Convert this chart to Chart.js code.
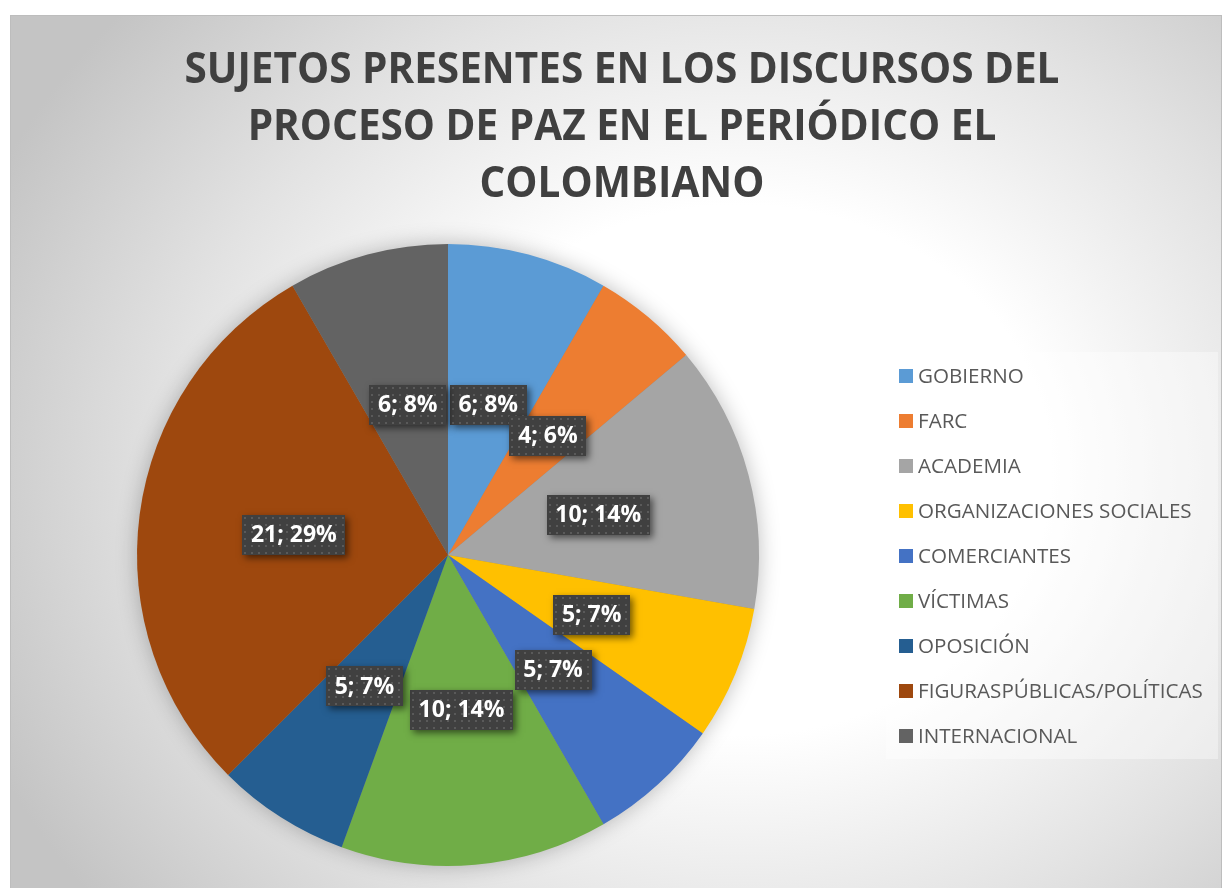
<!DOCTYPE html>
<html>
<head>
<meta charset="utf-8">
<script src="https://cdn.jsdelivr.net/npm/chart.js@4.4.1/dist/chart.umd.min.js"></script>
<style>
  html, body { margin: 0; padding: 0; background: #ffffff; }
  #wrap { width: 1224px; height: 888px; }
</style>
</head>
<body>
<div id="wrap"><canvas id="c" width="1224" height="888"></canvas></div>
<script>
// ---- data ----
const titleLines = [
  'SUJETOS PRESENTES EN LOS DISCURSOS DEL',
  'PROCESO DE PAZ EN EL PERIÓDICO EL',
  'COLOMBIANO'
];
const categories = [
  'GOBIERNO',
  'FARC',
  'ACADEMIA',
  'ORGANIZACIONES SOCIALES',
  'COMERCIANTES',
  'VÍCTIMAS',
  'OPOSICIÓN',
  'FIGURASPÚBLICAS/POLÍTICAS',
  'INTERNACIONAL'
];
const values = [6, 4, 10, 5, 5, 10, 5, 21, 6];
const colors = ['#5B9BD5', '#ED7D31', '#A5A5A5', '#FFC000', '#4472C4', '#70AD47', '#255E91', '#9E480E', '#636363'];

// ---- plugins ----
const backgroundPlugin = {
  id: 'bg',
  beforeDraw(chart) {
    const ctx = chart.ctx;
    ctx.save();
    ctx.fillStyle = '#ffffff';
    ctx.fillRect(0, 0, chart.width, chart.height);
    const x0 = 10, y0 = 15, w = 1212, h = 873;
    ctx.beginPath();
    ctx.rect(x0, y0, w, h);
    ctx.clip();
    const cx = 740, cy = 470;
    ctx.save();
    ctx.translate(cx, cy);
    ctx.scale(1, 0.85);
    const g = ctx.createRadialGradient(0, 0, 0, 0, 0, 820);
    g.addColorStop(0, '#ffffff');
    g.addColorStop(0.38, '#ffffff');
    g.addColorStop(0.7, '#e2e2e2');
    g.addColorStop(1, '#c4c4c4');
    ctx.fillStyle = g;
    ctx.fillRect(-1000, -1000, 2400, 2400);
    ctx.restore();
    ctx.restore();
    ctx.save();
    ctx.strokeStyle = '#bdbdbd';
    ctx.lineWidth = 1;
    ctx.strokeRect(x0 + 0.5, y0 + 0.5, w - 1, h + 5);
    ctx.restore();
  }
};

const titlePlugin = {
  id: 'customTitle',
  afterDraw(chart) {
    const ctx = chart.ctx;
    ctx.save();
    ctx.fillStyle = '#404040';
    ctx.font = 'bold 43px "Open Sans"';
    ctx.textAlign = 'center';
    ctx.textBaseline = 'alphabetic';
    const target = 875;
    const sx = target / ctx.measureText(titleLines[0]).width;
    const baselines = [83, 140, 197];
    const cx = 622;
    titleLines.forEach((t, i) => {
      ctx.save();
      ctx.translate(cx, baselines[i]);
      ctx.scale(sx, 1);
      ctx.fillText(t, 0, 0);
      ctx.restore();
    });
    ctx.restore();
  }
};

const pieShadowPlugin = {
  id: 'pieShadow',
  beforeDatasetsDraw(chart) {
    const arc = chart.getDatasetMeta(0).data[0];
    if (!arc) return;
    const ctx = chart.ctx;
    ctx.save();
    ctx.shadowColor = 'rgba(0,0,0,0.28)';
    ctx.shadowBlur = 22;
    ctx.fillStyle = '#888888';
    ctx.beginPath();
    ctx.arc(arc.x, arc.y, arc.outerRadius - 1, 0, Math.PI * 2);
    ctx.fill();
    ctx.restore();
  }
};

function makePattern(ctx) {
  const c = document.createElement('canvas');
  c.width = 7; c.height = 7;
  const p = c.getContext('2d');
  p.fillStyle = '#404040';
  p.fillRect(0, 0, 7, 7);
  p.fillStyle = '#5a5a5a';
  p.fillRect(2, 2, 2, 2);
  return ctx.createPattern(c, 'repeat');
}

const dataLabelPlugin = {
  id: 'dataLabels',
  afterDatasetsDraw(chart) {
    const ctx = chart.ctx;
    const ds = chart.data.datasets[0];
    const total = ds.data.reduce((a, b) => a + b, 0);
    const meta = chart.getDatasetMeta(0);
    const pattern = makePattern(ctx);
    ctx.save();
    ctx.font = 'bold 23px "Open Sans"';
    meta.data.forEach((arc, i) => {
      const v = ds.data[i];
      const txt = v + '; ' + Math.round(v / total * 100) + '%';
      const pos = arc.tooltipPosition();
      const tw = ctx.measureText(txt).width;
      const bw = Math.round(tw + 17), bh = 40;
      const bx = Math.round(pos.x - bw / 2), by = Math.round(pos.y - bh / 2);
      ctx.save();
      ctx.shadowColor = 'rgba(0,0,0,0.55)';
      ctx.shadowBlur = 7;
      ctx.shadowOffsetX = 3;
      ctx.shadowOffsetY = 3;
      ctx.fillStyle = '#404040';
      ctx.fillRect(bx, by, bw, bh);
      ctx.restore();
      ctx.save();
      ctx.translate(bx, by);
      ctx.fillStyle = pattern;
      ctx.fillRect(0, 0, bw, bh);
      ctx.restore();
      ctx.fillStyle = '#ffffff';
      ctx.textAlign = 'center';
      ctx.textBaseline = 'middle';
      ctx.fillText(txt, pos.x, pos.y + 1);
    });
    ctx.restore();
  }
};

const legendPlugin = {
  id: 'customLegend',
  afterDraw(chart) {
    const ctx = chart.ctx;
    ctx.save();
    ctx.fillStyle = 'rgba(255,255,255,0.38)';
    ctx.fillRect(886, 352, 332, 407);
    ctx.font = '20.6px "Open Sans"';
    ctx.textAlign = 'left';
    ctx.textBaseline = 'middle';
    const ds = chart.data.datasets[0];
    chart.data.labels.forEach((lab, i) => {
      const cy = 376 + i * 45;
      ctx.fillStyle = ds.backgroundColor[i];
      ctx.fillRect(899, cy - 7, 14, 14);
      ctx.fillStyle = '#595959';
      ctx.fillText(lab, 918, cy + 1);
    });
    ctx.restore();
  }
};

new Chart(document.getElementById('c'), {
  type: 'pie',
  data: {
    labels: categories,
    datasets: [{
      data: values,
      backgroundColor: colors,
      borderWidth: 0
    }]
  },
  options: {
    responsive: false,
    devicePixelRatio: 1,
    animation: false,
    layout: { padding: { left: 137, right: 465, top: 244, bottom: 22 } },
    plugins: {
      legend: { display: false },
      title: { display: false },
      tooltip: { enabled: false }
    }
  },
  plugins: [backgroundPlugin, pieShadowPlugin, dataLabelPlugin, titlePlugin, legendPlugin]
});
</script>
</body>
</html>
